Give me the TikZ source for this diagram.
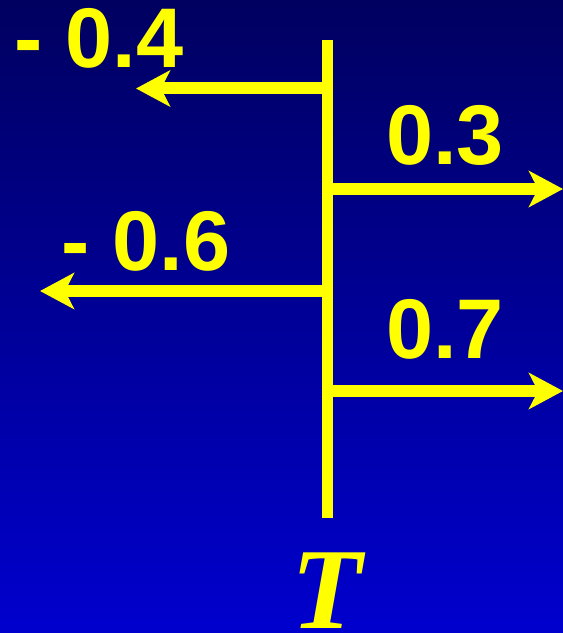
\documentclass[tikz,border=0pt]{standalone}
\usepackage{fontspec}
\setmainfont{Liberation Sans}
\newfontfamily\serifit{Liberation Serif}
\usetikzlibrary{arrows.meta}
\definecolor{bgtop}{RGB}{0,0,96}
\definecolor{bgbot}{RGB}{0,0,206}
\definecolor{ylw}{RGB}{255,255,0}
\begin{document}
\begin{tikzpicture}[x=1bp, y=-1bp, line cap=butt,
	every node/.style={text=ylw, inner sep=0pt},
	val/.style={font=\fontsize{85}{85}\selectfont\bfseries},
	vec/.style={draw=ylw, line width=12bp, -{Stealth[length=34bp, width=36bp, inset=9bp]}}]
	% background
	\useasboundingbox (0,0) rectangle (563,633);
	\shade[top color=bgtop, bottom color=bgbot] (0,0) rectangle (563,633);
	% axis
	\coordinate (axtop) at (327.5,40);
	\coordinate (axbot) at (327.5,518);
	\draw[draw=ylw, line width=11bp] (axtop) -- (axbot);
	% points on the axis and free ends
	\coordinate (a1) at (327.5,88.5);
	\coordinate (a2) at (327.5,189);
	\coordinate (a3) at (327.5,291);
	\coordinate (a4) at (327.5,391);
	\coordinate (e1) at (136,88.5);
	\coordinate (e2) at (563,189);
	\coordinate (e3) at (40,291);
	\coordinate (e4) at (563,391);
	\draw[vec] (a1) -- (e1);
	\draw[vec] (a2) -- (e2);
	\draw[vec] (a3) -- (e3);
	\draw[vec] (a4) -- (e4);
	% values
	\node[val, anchor=base west] (v1) at (14,68) {- 0.4};
	\node[val, anchor=base] (v2) at (445,165) {0.3};
	\node[val, anchor=base west] (v3) at (61,270) {- 0.6};
	\node[val, anchor=base] (v4) at (445,358) {0.7};
	% label
	\node[anchor=base, font=\fontsize{116}{116}\selectfont\serifit\bfseries\itshape] (lbl) at (327,628) {T};
\end{tikzpicture}
\end{document}
